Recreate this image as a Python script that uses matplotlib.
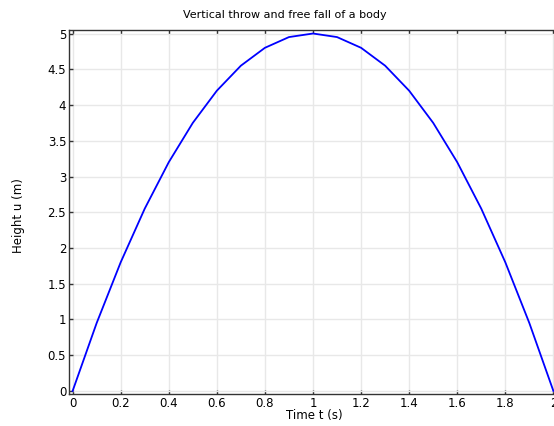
import matplotlib
matplotlib.use('Agg')
import matplotlib.pyplot as plt

# time (s) and height (m)
t = [0.0, 0.1, 0.2, 0.3, 0.4, 0.5, 0.6, 0.7, 0.8, 0.9, 1.0,
     1.1, 1.2, 1.3, 1.4, 1.5, 1.6, 1.7, 1.8, 1.9, 2.0]
u = [0.0, 0.95, 1.8, 2.55, 3.2, 3.75, 4.2, 4.55, 4.8, 4.95, 5.0,
     4.95, 4.8, 4.55, 4.2, 3.75, 3.2, 2.55, 1.8, 0.95, 0.0]

xticks = [0, 0.2, 0.4, 0.6, 0.8, 1, 1.2, 1.4, 1.6, 1.8, 2]
xlabels = ['0', '0.2', '0.4', '0.6', '0.8', '1', '1.2', '1.4', '1.6', '1.8', '2']
yticks = [0, 0.5, 1, 1.5, 2, 2.5, 3, 3.5, 4, 4.5, 5]
ylabels = ['0', '0.5', '1', '1.5', '2', '2.5', '3', '3.5', '4', '4.5', '5']

W, H = 554, 426
fig = plt.figure(figsize=(W/100, H/100), dpi=100)
left, right, top, bottom = 69, 557, 30, 394
ax = fig.add_axes([left/W, 1-bottom/H, (right-left)/W, (bottom-top)/H])

ax.plot(t, u, color='#0000ff', lw=1.3)

ax.set_xlim(-0.015, 2.015)
ax.set_ylim(-0.042, 5.049)
ax.set_xticks(xticks)
ax.set_xticklabels(xlabels)
ax.set_yticks(yticks)
ax.set_yticklabels(ylabels)
ax.grid(color='#e8e8e8', lw=1)
ax.set_axisbelow(True)
ax.tick_params(direction='in', top=True, right=False, labelsize=8.5,
               length=3, width=1, color='#333333', pad=2)
for s in ax.spines.values():
    s.set_color('#333333')
    s.set_linewidth(1)

fig.text(285/W, 1-15/H, 'Vertical throw and free fall of a body',
         ha='center', va='center', fontsize=8)
fig.text(314/W, 1-415.5/H, 'Time t (s)', ha='center', va='center', fontsize=8.5)
fig.text(19/W, 1-216/H, 'Height u (m)', ha='center', va='center',
         rotation=90, fontsize=8.5)

fig.savefig('out.png', dpi=100)
